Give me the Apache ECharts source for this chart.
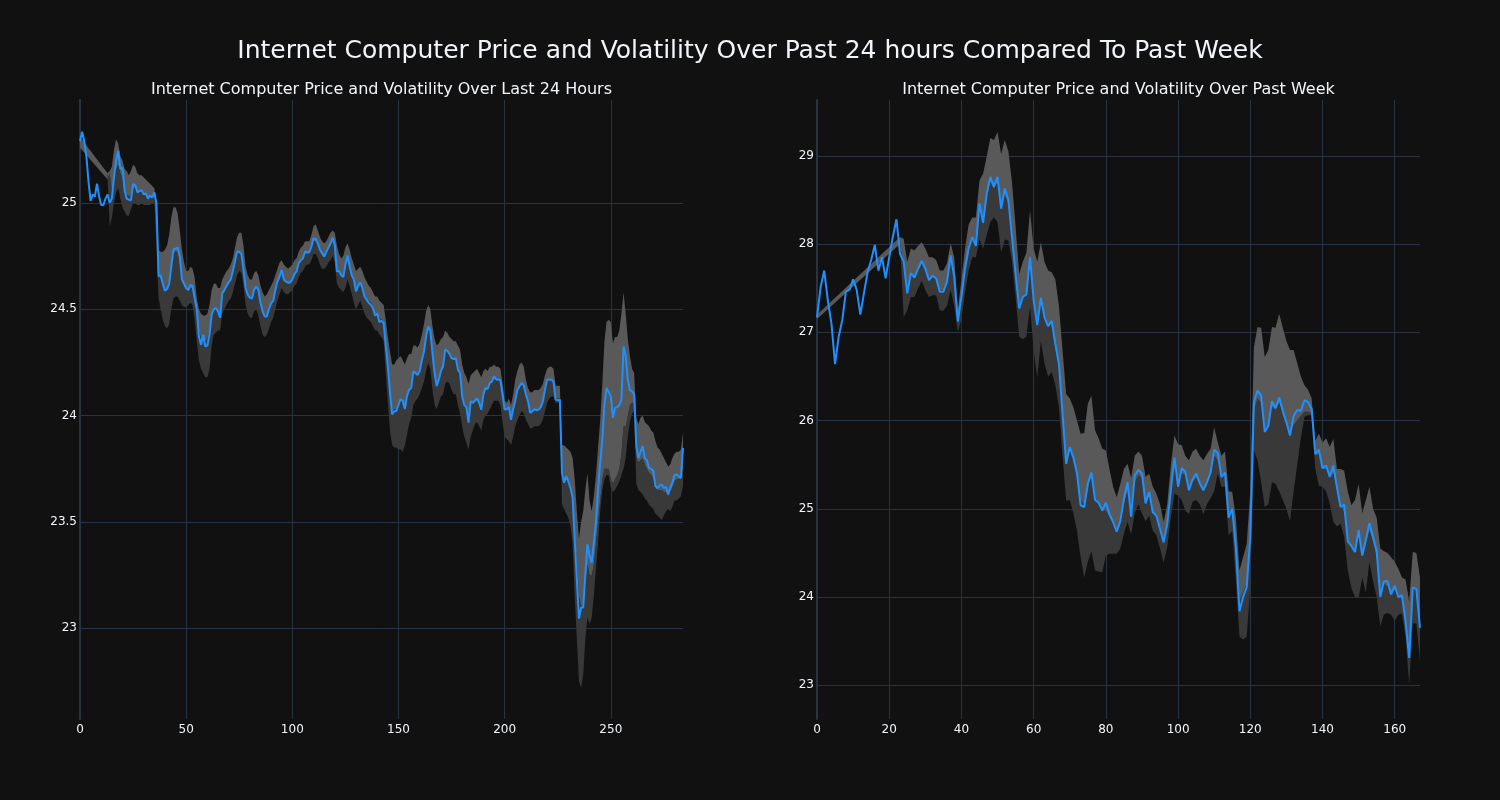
<!DOCTYPE html>
<html><head><meta charset="utf-8">
<script src="https://cdn.jsdelivr.net/npm/echarts@6/dist/echarts.min.js"></script>
<style>html,body{margin:0;padding:0;background:#111111;}#chart{width:1500px;height:800px;}</style>
</head><body><div id="chart"></div>
<script>
const mainTitle = "Internet Computer Price and Volatility Over Past 24 hours Compared To Past Week";
const subTitles = ["Internet Computer Price and Volatility Over Last 24 Hours", "Internet Computer Price and Volatility Over Past Week"];

// ---- Last 24 hours (index 0..284) ----
const priceDay = [
25.29,25.335,25.29,25.22,25.10,25.01,25.04,25.03,25.09,25.03,
24.99,24.99,25.02,25.04,25.00,25.02,25.12,25.20,25.245,25.16,
25.165,25.06,25.02,25.015,25.013,25.088,25.085,25.05,25.055,25.06,
25.04,25.045,25.02,25.035,25.025,25.05,25.00,24.654,24.66,24.62,
24.587,24.595,24.62,24.70,24.78,24.785,24.79,24.745,24.64,24.62,
24.60,24.59,24.615,24.61,24.55,24.50,24.372,24.333,24.38,24.325,
24.33,24.38,24.474,24.50,24.505,24.49,24.46,24.576,24.59,24.61,
24.626,24.64,24.68,24.725,24.771,24.77,24.76,24.685,24.60,24.568,
24.555,24.55,24.59,24.607,24.59,24.53,24.49,24.466,24.466,24.50,
24.529,24.54,24.59,24.63,24.654,24.685,24.64,24.63,24.625,24.626,
24.64,24.665,24.678,24.717,24.73,24.74,24.771,24.77,24.768,24.795,
24.834,24.83,24.81,24.78,24.764,24.748,24.77,24.79,24.81,24.837,
24.80,24.678,24.68,24.66,24.651,24.71,24.753,24.70,24.66,24.64,
24.584,24.61,24.626,24.60,24.56,24.545,24.53,24.52,24.505,24.47,
24.48,24.44,24.445,24.435,24.33,24.232,24.11,24.005,24.02,24.023,
24.05,24.078,24.07,24.031,24.091,24.122,24.13,24.208,24.20,24.19,
24.21,24.26,24.30,24.372,24.419,24.40,24.294,24.20,24.138,24.17,
24.21,24.232,24.31,24.305,24.29,24.27,24.265,24.27,24.216,24.20,
24.09,24.05,24.04,23.967,24.067,24.06,24.07,24.08,24.06,24.028,
24.10,24.13,24.125,24.154,24.16,24.185,24.17,24.17,24.165,24.10,
24.028,24.03,24.04,23.98,24.03,24.07,24.12,24.138,24.154,24.14,
24.10,24.067,24.013,24.02,24.03,24.025,24.028,24.04,24.067,24.122,
24.169,24.17,24.168,24.16,24.075,24.072,24.075,23.731,23.684,23.715,
23.69,23.66,23.614,23.418,23.23,23.045,23.097,23.097,23.25,23.394,
23.34,23.308,23.40,23.50,23.653,23.78,23.887,24.052,24.13,24.11,
24.09,23.989,24.036,24.04,24.05,24.075,24.325,24.28,24.169,24.12,
24.114,24.10,23.856,23.80,23.83,23.856,23.80,23.79,23.754,23.75,
23.74,23.668,23.66,23.67,23.676,23.66,23.665,23.629,23.66,23.684,
23.72,23.723,23.715,23.707,23.848
];
const upperDay = [
25.31,null,null,null,null,null,null,null,null,null,
null,null,null,25.14,25.15,25.17,25.25,25.30,25.28,25.22,
25.20,25.16,25.15,25.13,25.15,25.18,25.17,25.14,25.13,25.13,
25.12,25.11,25.10,25.09,25.08,25.07,25.00,24.78,24.77,24.77,
24.78,24.80,24.85,24.93,24.98,24.98,24.95,24.87,24.78,24.72,
24.68,24.68,24.70,24.69,24.65,24.55,24.50,24.48,24.47,24.47,
24.48,24.52,24.59,24.62,24.62,24.60,24.60,24.64,24.66,24.68,
24.69,24.71,24.74,24.79,24.84,24.86,24.86,24.80,24.70,24.66,
24.64,24.64,24.67,24.68,24.66,24.61,24.58,24.56,24.57,24.59,
24.61,24.63,24.66,24.69,24.72,24.73,24.71,24.70,24.69,24.70,
24.71,24.73,24.74,24.77,24.79,24.80,24.82,24.82,24.82,24.85,
24.89,24.90,24.87,24.84,24.82,24.81,24.82,24.84,24.86,24.87,
24.86,24.80,24.76,24.74,24.75,24.79,24.81,24.78,24.74,24.71,
24.68,24.69,24.70,24.68,24.65,24.63,24.61,24.60,24.58,24.56,
24.56,24.54,24.53,24.52,24.45,24.37,24.30,24.24,24.24,24.26,
24.27,24.28,24.26,24.24,24.27,24.29,24.29,24.33,24.33,24.32,
24.34,24.38,24.43,24.49,24.52,24.50,24.42,24.36,24.33,24.34,
24.36,24.37,24.40,24.39,24.37,24.36,24.35,24.35,24.33,24.31,
24.24,24.20,24.18,24.15,24.19,24.20,24.21,24.22,24.20,24.18,
24.21,24.22,24.21,24.23,24.23,24.24,24.23,24.23,24.22,24.15,
24.07,24.06,24.08,24.05,24.10,24.17,24.21,24.24,24.25,24.23,
24.17,24.13,24.11,24.11,24.12,24.12,24.12,24.13,24.15,24.19,
24.22,24.23,24.23,24.22,24.14,24.14,24.14,23.86,23.86,23.85,
23.84,23.83,23.80,23.70,23.55,23.42,23.50,23.55,23.65,23.73,
23.60,23.55,23.62,23.72,23.85,23.98,24.15,24.35,24.44,24.45,
24.44,24.34,24.37,24.37,24.40,24.48,24.58,24.48,24.36,24.28,
24.22,24.20,23.99,23.96,23.99,24.00,23.97,23.96,23.95,23.93,
23.92,23.88,23.85,23.84,23.82,23.80,23.78,23.76,23.77,23.80,
23.82,23.83,23.83,23.84,23.92
];
const midDay = [
25.26,null,null,null,null,null,null,null,null,null,
null,null,null,25.11,25.14,25.05,25.10,25.16,25.18,25.14,
25.12,25.06,25.04,25.03,25.04,25.07,25.07,25.05,25.05,25.05,
25.04,25.04,25.03,25.03,25.03,25.04,24.90,24.66,24.64,24.61,
24.59,24.60,24.63,24.70,24.76,24.77,24.77,24.72,24.65,24.62,
24.60,24.59,24.60,24.60,24.55,24.48,24.40,24.36,24.36,24.35,
24.36,24.40,24.47,24.50,24.50,24.49,24.48,24.56,24.58,24.60,
24.62,24.64,24.67,24.71,24.76,24.77,24.76,24.69,24.61,24.57,
24.56,24.55,24.59,24.60,24.58,24.53,24.49,24.47,24.47,24.50,
24.53,24.54,24.59,24.62,24.65,24.67,24.64,24.63,24.62,24.62,
24.64,24.66,24.68,24.71,24.73,24.74,24.76,24.76,24.76,24.79,
24.82,24.82,24.80,24.77,24.76,24.75,24.77,24.78,24.80,24.82,
24.79,24.69,24.68,24.66,24.66,24.70,24.74,24.70,24.66,24.63,
24.59,24.61,24.62,24.60,24.57,24.55,24.54,24.53,24.51,24.48,
24.48,24.46,24.45,24.44,24.34,24.25,24.13,24.02,24.03,24.03,
24.06,24.08,24.07,24.04,24.09,24.12,24.13,24.20,24.20,24.19,
24.21,24.26,24.30,24.37,24.41,24.40,24.30,24.21,24.15,24.17,
24.21,24.23,24.30,24.30,24.29,24.27,24.26,24.26,24.22,24.20,
24.10,24.06,24.05,23.98,24.06,24.06,24.07,24.08,24.06,24.04,
24.10,24.12,24.12,24.15,24.16,24.18,24.17,24.17,24.16,24.09,
24.03,24.03,24.04,23.99,24.03,24.07,24.12,24.14,24.15,24.14,
24.10,24.07,24.02,24.02,24.03,24.03,24.03,24.04,24.07,24.12,
24.16,24.17,24.17,24.16,24.08,24.08,24.08,23.76,23.70,23.70,
23.69,23.66,23.62,23.45,23.30,23.15,23.10,23.12,23.20,23.30,
23.25,23.25,23.30,23.40,23.50,23.60,23.70,23.75,23.75,23.75,
23.70,23.68,23.70,23.72,23.75,23.82,23.95,23.95,24.00,24.05,
24.06,24.06,23.80,23.78,23.79,23.80,23.77,23.75,23.73,23.72,
23.70,23.66,23.65,23.65,23.65,23.64,23.64,23.62,23.64,23.66,
23.69,23.70,23.70,23.70,23.75
];
const lowerDay = [
25.26,null,null,null,null,null,null,null,null,null,
null,null,null,25.11,24.89,24.93,25.00,25.05,25.07,25.02,
24.98,24.96,24.94,24.94,24.97,25.00,25.00,24.99,24.99,25.00,
24.99,24.99,24.99,24.99,25.00,25.00,24.80,24.55,24.50,24.45,
24.42,24.41,24.43,24.50,24.55,24.56,24.56,24.54,24.52,24.51,
24.51,24.52,24.53,24.52,24.45,24.35,24.26,24.22,24.20,24.18,
24.18,24.22,24.33,24.38,24.39,24.40,24.40,24.48,24.50,24.52,
24.54,24.55,24.58,24.62,24.66,24.68,24.67,24.61,24.52,24.48,
24.46,24.46,24.49,24.50,24.47,24.42,24.38,24.37,24.38,24.41,
24.44,24.46,24.50,24.54,24.57,24.60,24.58,24.57,24.57,24.58,
24.59,24.61,24.62,24.65,24.67,24.68,24.70,24.71,24.71,24.73,
24.76,24.76,24.74,24.71,24.69,24.69,24.70,24.72,24.73,24.75,
24.72,24.62,24.60,24.59,24.58,24.60,24.64,24.61,24.57,24.53,
24.50,24.52,24.54,24.51,24.48,24.46,24.45,24.44,24.42,24.40,
24.40,24.38,24.37,24.35,24.20,24.06,23.93,23.86,23.85,23.85,
23.84,23.84,23.83,23.86,23.91,23.96,23.99,24.05,24.07,24.08,
24.10,24.13,24.16,24.21,24.25,24.22,24.12,24.05,24.03,24.06,
24.09,24.10,24.15,24.16,24.15,24.12,24.10,24.10,24.05,24.01,
23.95,23.90,23.87,23.84,23.90,23.93,23.96,23.97,23.95,23.93,
23.98,24.00,24.01,24.03,24.05,24.07,24.07,24.07,24.05,23.97,
23.90,23.89,23.88,23.86,23.90,23.95,23.98,24.00,24.02,24.01,
23.98,23.96,23.94,23.94,23.95,23.95,23.95,23.96,23.98,24.02,
24.06,24.08,24.09,24.09,24.06,24.06,24.06,23.58,23.56,23.54,
23.52,23.48,23.40,23.15,22.95,22.75,22.72,22.78,22.95,23.05,
23.02,23.05,23.15,23.28,23.40,23.55,23.65,23.70,23.72,23.72,
23.66,23.64,23.65,23.67,23.69,23.72,23.75,23.80,23.90,23.97,
24.01,24.02,23.68,23.65,23.64,23.63,23.61,23.60,23.58,23.57,
23.56,23.54,23.53,23.52,23.51,23.53,23.55,23.56,23.55,23.57,
23.60,23.60,23.61,23.62,23.67
];

// ---- Past week (index 0..167) ----
const priceWeek = [
27.17,27.51,27.70,27.36,27.10,26.64,26.95,27.14,27.46,27.48,
27.60,27.48,27.20,27.44,27.68,27.82,27.99,27.70,27.85,27.61,
27.85,28.08,28.28,27.89,27.80,27.44,27.67,27.62,27.72,27.81,
27.72,27.59,27.64,27.61,27.46,27.46,27.57,27.87,27.63,27.12,
27.40,27.72,27.95,28.08,27.98,28.46,28.24,28.57,28.76,28.65,
28.76,28.40,28.63,28.50,28.08,27.66,27.27,27.40,27.43,27.85,
27.36,27.08,27.39,27.17,27.07,27.13,26.87,26.64,26.08,25.51,
25.70,25.58,25.40,25.04,25.02,25.28,25.41,25.10,25.07,24.98,
25.07,24.94,24.85,24.74,24.86,25.11,25.30,24.91,25.38,25.44,
25.40,25.06,25.19,24.96,24.92,24.77,24.62,24.83,25.21,25.58,
25.25,25.46,25.42,25.21,25.33,25.40,25.29,25.21,25.30,25.41,
25.67,25.63,25.36,25.41,24.90,25.00,24.56,23.84,24.00,24.11,
24.68,26.21,26.34,26.28,25.87,25.94,26.22,26.14,26.26,26.11,
25.98,25.83,26.05,26.12,26.11,26.23,26.21,26.13,25.62,25.67,
25.46,25.49,25.36,25.49,25.24,25.02,25.05,24.63,24.58,24.51,
24.76,24.47,24.64,24.84,24.68,24.52,24.00,24.18,24.18,24.03,
24.13,24.00,24.02,23.73,23.31,24.11,24.09,23.65
];
const upperWeek = [
27.20,null,null,null,null,null,null,null,null,null,
null,null,null,null,null,null,null,null,null,null,
null,null,null,28.08,28.06,27.80,27.95,27.93,27.98,28.02,
27.95,27.85,27.85,27.82,27.70,27.70,27.78,28.01,27.85,27.25,
27.60,27.95,28.22,28.30,28.30,28.72,28.80,28.99,29.20,29.18,
29.27,29.02,29.18,29.05,28.70,28.20,27.66,27.80,27.90,28.38,
27.95,27.80,28.02,27.80,27.70,27.68,27.60,27.30,26.80,26.30,
26.25,26.15,26.00,25.85,25.86,26.19,26.28,25.89,25.80,25.68,
25.66,25.45,25.25,25.13,25.28,25.45,25.51,25.35,25.60,25.65,
25.60,25.36,25.40,25.25,25.17,25.05,24.85,25.05,25.50,25.83,
25.73,25.72,25.60,25.55,25.65,25.68,25.60,25.55,25.62,25.68,
25.92,25.75,25.60,25.65,25.20,25.19,24.90,24.30,24.45,24.60,
25.20,26.83,27.06,27.05,26.72,26.80,27.06,27.05,27.21,27.05,
26.90,26.80,26.80,26.65,26.50,26.40,26.35,26.25,25.77,25.85,
25.75,25.80,25.70,25.79,25.45,25.45,25.43,25.20,25.04,25.10,
25.28,24.95,25.10,25.25,25.00,24.90,24.55,24.52,24.50,24.45,
24.40,24.32,24.22,24.20,23.95,24.51,24.50,24.22
];
const midWeek = [
27.15,null,null,null,null,null,null,null,null,null,
null,null,null,null,null,null,null,null,null,null,
null,null,null,28.00,27.75,27.50,27.65,27.63,27.70,27.78,
27.72,27.60,27.63,27.60,27.48,27.48,27.57,27.80,27.62,27.12,
27.40,27.70,27.95,28.07,28.00,28.40,28.25,28.50,28.70,28.62,
28.70,28.40,28.55,28.45,28.10,27.70,27.30,27.40,27.45,27.80,
27.40,27.10,27.35,27.15,27.05,27.10,26.90,26.65,26.10,25.55,
25.68,25.58,25.40,25.10,25.05,25.28,25.40,25.12,25.08,24.98,
24.98,24.90,24.82,24.74,24.82,25.05,25.20,24.95,25.30,25.38,
25.35,25.05,25.15,24.95,24.90,24.78,24.62,24.82,25.20,25.50,
25.28,25.40,25.38,25.25,25.30,25.35,25.28,25.22,25.28,25.38,
25.60,25.55,25.40,25.38,24.95,24.98,24.60,23.95,24.05,24.15,
24.70,26.10,26.25,26.20,25.90,25.95,26.15,26.12,26.20,26.05,
25.95,25.85,25.95,26.00,26.05,26.10,26.10,26.08,25.60,25.62,
25.45,25.45,25.35,25.40,25.20,25.05,24.95,24.65,24.55,24.50,
24.70,24.50,24.62,24.75,24.62,24.45,24.05,24.15,24.12,24.05,
24.08,24.00,23.98,23.75,23.40,24.10,24.08,23.70
];
const lowerWeek = [
27.15,null,null,null,null,null,null,null,null,null,
null,null,null,null,null,null,null,null,null,null,
null,null,null,28.00,27.17,27.25,27.40,27.40,27.50,27.58,
27.48,27.40,27.42,27.42,27.25,27.24,27.30,27.48,27.30,27.00,
27.15,27.45,27.70,27.85,27.85,28.05,27.95,28.10,28.25,28.30,
28.25,27.90,28.05,28.04,27.80,27.40,26.95,26.92,26.95,27.29,
26.80,26.49,26.90,26.65,26.50,26.55,26.40,26.15,25.60,25.09,
25.10,24.95,24.75,24.45,24.22,24.40,24.52,24.30,24.29,24.28,
24.47,24.49,24.49,24.49,24.55,24.72,24.85,24.71,24.95,25.05,
24.95,24.86,24.92,24.75,24.70,24.55,24.39,24.56,24.90,25.17,
25.15,25.10,24.98,24.94,25.08,25.10,25.05,24.94,25.05,25.12,
25.20,25.40,25.25,25.25,24.70,24.75,24.20,23.55,23.52,23.55,
24.10,25.66,25.55,25.30,25.02,25.05,25.30,25.28,25.20,25.10,
25.00,24.86,25.20,25.50,25.80,26.04,26.06,26.06,25.45,25.26,
25.25,25.20,25.06,24.85,24.80,24.83,24.68,24.30,24.10,24.00,
23.99,24.22,24.05,24.40,24.18,24.00,23.67,23.80,23.82,23.80,
23.73,23.80,23.81,23.55,23.01,23.70,23.70,23.28
];

const yRangeDay = [22.573, 25.484];
const yRangeWeek = [22.618, 29.632];
const xLabelStepDay = 50;
const xLabelStepWeek = 20;

// ---- styling ----
const BG = '#111111', GRID = '#283442', TXT = '#f2f5fa', FONT = 'DejaVu Sans';
const LINE = '#1e90ff', LIGHT = '#595959', DARK = '#393939';

function diff(a, b) {
  return a.map((v, i) => (v == null || b[i] == null) ? null : +(v - b[i]).toFixed(4));
}
function idx(n) { return Array.from({length: n}, (_, i) => String(i)); }
function gapsOf(arr) {
  const gaps = []; let prev = null;
  for (let i = 0; i < arr.length; i++) {
    if (arr[i] != null) { if (prev != null && i - prev > 1) gaps.push([prev, i]); prev = i; }
  }
  return gaps;
}

function xAxis(gi, n, step) {
  const f = (i) => i % step === 0;
  return {
    type: 'category', gridIndex: gi, data: idx(n), boundaryGap: false,
    axisLine: {show: false}, axisTick: {show: false},
    axisLabel: {interval: f, color: TXT, fontSize: 12, fontFamily: FONT, margin: 5},
    splitLine: {show: true, interval: f, lineStyle: {color: GRID, width: 1}}
  };
}
function yAxis(gi, range) {
  return {
    type: 'value', gridIndex: gi, min: range[0], max: range[1], splitNumber: 5,
    axisLine: {show: true, lineStyle: {color: GRID, width: 2}}, axisTick: {show: false},
    axisLabel: {color: TXT, fontSize: 12, fontFamily: FONT, margin: 3, padding: [4, 0, 0, 0],
                showMinLabel: false, showMaxLabel: false},
    splitLine: {show: true, showMinLine: false, showMaxLine: false, lineStyle: {color: GRID, width: 1}}
  };
}
function band(gi, lower, mid, upper, price, key) {
  const common = {type: 'line', xAxisIndex: gi, yAxisIndex: gi, symbol: 'none', showSymbol: false,
    connectNulls: false, stack: key, stackStrategy: 'all', silent: true, lineStyle: {width: 0, opacity: 0}};
  // the band's leading gap (rolling window warm-up) is bridged by a polygon drawn on the axes
  const wedge = {
    type: 'custom', xAxisIndex: gi, yAxisIndex: gi, silent: true, data: gapsOf(upper),
    renderItem: function (params, api) {
      const s = api.value(0), e = api.value(1);
      const poly = (top, bot, color) => ({
        type: 'polygon',
        shape: {points: [api.coord([s, top[s]]), api.coord([e, top[e]]), api.coord([e, bot[e]]), api.coord([s, bot[s]])]},
        style: {fill: color}
      });
      return {type: 'group', children: [poly(upper, mid, LIGHT), poly(mid, lower, DARK)]};
    }
  };
  return [
    wedge,
    Object.assign({}, common, {data: lower}),
    Object.assign({}, common, {data: diff(mid, lower), areaStyle: {color: DARK, opacity: 1}}),
    Object.assign({}, common, {data: diff(upper, mid), areaStyle: {color: LIGHT, opacity: 1}}),
    {type: 'line', xAxisIndex: gi, yAxisIndex: gi, data: price, symbol: 'none', showSymbol: false,
     lineStyle: {color: LINE, width: 2}, z: 5}
  ];
}

const chart = echarts.init(document.getElementById('chart'), null, {renderer: 'canvas'});
chart.setOption({
  backgroundColor: BG,
  animation: false,
  title: [
    {text: mainTitle, left: 750, textAlign: 'center', top: 39, padding: 0,
     textStyle: {color: TXT, fontSize: 25, fontWeight: 'normal', fontFamily: FONT}},
    {text: subTitles[0], left: 381.5, textAlign: 'center', top: 82, padding: 0,
     textStyle: {color: TXT, fontSize: 16, fontWeight: 'normal', fontFamily: FONT}},
    {text: subTitles[1], left: 1118.5, textAlign: 'center', top: 82, padding: 0,
     textStyle: {color: TXT, fontSize: 16, fontWeight: 'normal', fontFamily: FONT}}
  ],
  grid: [
    {left: 80, top: 100, width: 603, height: 619, containLabel: false},
    {left: 817, top: 100, width: 603, height: 619, containLabel: false}
  ],
  xAxis: [xAxis(0, priceDay.length, xLabelStepDay), xAxis(1, priceWeek.length, xLabelStepWeek)],
  yAxis: [yAxis(0, yRangeDay), yAxis(1, yRangeWeek)],
  series: [].concat(
    band(0, lowerDay, midDay, upperDay, priceDay, 'day'),
    band(1, lowerWeek, midWeek, upperWeek, priceWeek, 'week')
  )
});
</script>
</body></html>
